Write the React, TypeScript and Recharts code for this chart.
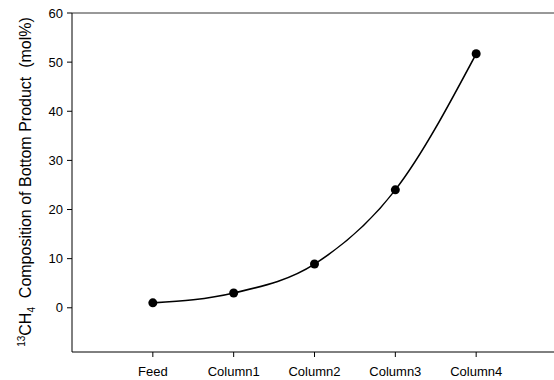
import React from 'react';
import {
  LineChart,
  Line,
  XAxis,
  YAxis,
  ReferenceLine,
} from 'recharts';

const categories = ['Feed', 'Column1', 'Column2', 'Column3', 'Column4'];
const composition = [1.0, 3.0, 8.9, 24.0, 51.7];
const yTicks = [0, 10, 20, 30, 40, 50, 60];

const data = categories.map((name, i) => ({
  x: i + 1,
  name,
  value: composition[i],
}));

const font = '"Liberation Sans", Arial, sans-serif';

const YLabel = () => (
  <text
    transform="translate(31, 182) rotate(-90)"
    textAnchor="middle"
    fontFamily={font}
    fontSize={16}
    fill="#000"
    style={{ whiteSpace: 'pre' }}
  >
    <tspan fontSize={10} dy={-6}>13</tspan>
    <tspan dy={6}>CH</tspan>
    <tspan fontSize={10} dy={4}>4</tspan>
    <tspan dy={-4}>{'  Composition of Bottom Product  (mol%)'}</tspan>
  </text>
);

const App = () => (
  <div style={{ width: 554, height: 380, overflow: 'hidden' }}>
    <style>{'body{margin:0}'}</style>
    <LineChart
      width={557}
      height={380}
      data={data}
      margin={{ top: 13, right: 0, left: 0, bottom: 0 }}
    >
      <XAxis
        dataKey="x"
        type="number"
        domain={[0, 6]}
        ticks={[1, 2, 3, 4, 5]}
        tickFormatter={(v: number) => categories[v - 1]}
        height={28}
        stroke="#000"
        tickSize={5}
        tickMargin={10}
        tick={{ fill: '#000', fontSize: 13, fontFamily: font }}
      />
      <YAxis
        domain={[-9, 60]}
        ticks={yTicks}
        width={72}
        stroke="#000"
        tickSize={5}
        tickMargin={4}
        interval={0}
        tick={{ fill: '#000', fontSize: 13, fontFamily: font }}
        label={<YLabel />}
      />
      <ReferenceLine y={60} stroke="#333" strokeWidth={1} />
      <Line
        type="monotone"
        dataKey="value"
        stroke="#000"
        strokeWidth={1.6}
        dot={{ r: 4.5, fill: '#000', stroke: '#000', strokeWidth: 0 }}
        isAnimationActive={false}
      />
    </LineChart>
  </div>
);

export default App;
